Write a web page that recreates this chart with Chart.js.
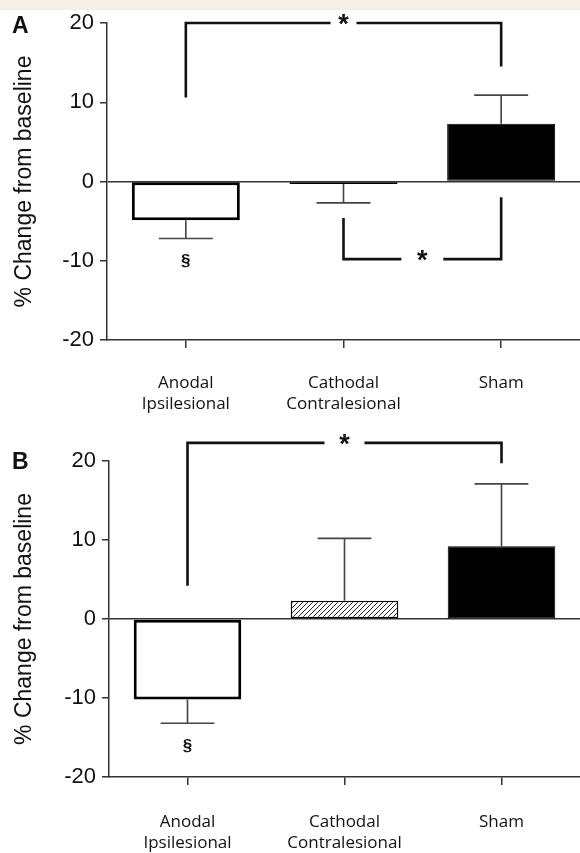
<!DOCTYPE html>
<html>
<head>
<meta charset="utf-8">
<script src="https://cdn.jsdelivr.net/npm/chart.js@4.4.0/dist/chart.umd.min.js"></script>
<style>
  html, body { margin: 0; padding: 0; background: #fff; }
  #band { position: absolute; left: 0; top: 0; width: 580px; height: 10px; background: #f4f0e3; z-index: 2; }
  .panel { position: relative; width: 580px; }
  #wrapA { height: 420px; }
  #wrapB { height: 433px; }
</style>
</head>
<body>
<div id="band"></div>
<div class="panel" id="wrapA"><canvas id="chartA"></canvas></div>
<div class="panel" id="wrapB"><canvas id="chartB"></canvas></div>
<script>
// ---- data ----
const categories = [['Anodal', 'Ipsilesional'], ['Cathodal', 'Contralesional'], ['Sham']];
const yTicks = [-20, -10, 0, 10, 20];

const meanA = [-4.9, -0.3, 7.3];
const errA = [2.3, 2.4, 3.6];
const meanB = [-10.2, 2.3, 9.2];
const errB = [3.0, 7.9, 7.9];

// significance brackets: [from category, to category, bracket level, left leg end, right leg end]
const bracketsA = [[0, 2, 20, 10.6, 14.5], [1, 2, -9.8, -4.6, -2.0]];
const bracketsB = [[0, 2, 22.3, 4.2, 19.7]];

// § marker: [category, value]
const sectionA = [0, -10.1];
const sectionB = [0, -16.1];

// hatch for cathodal bar in panel B
function hatch() {
    const c = document.createElement('canvas');
    c.width = 5; c.height = 5;
    const g = c.getContext('2d');
    g.fillStyle = '#fff';
    g.fillRect(0, 0, 5, 5);
    g.strokeStyle = '#222';
    g.lineWidth = 1;
    g.beginPath();
    g.moveTo(0, 5); g.lineTo(5, 0);
    g.moveTo(-1, 1); g.lineTo(1, -1);
    g.moveTo(4, 6); g.lineTo(6, 4);
    g.stroke();
    return g.createPattern(c, 'repeat');
}

// error bars, brackets, stars and panel letters
const extras = {
    id: 'extras',
    afterDatasetsDraw(chart, args, opts) {
        const { ctx, scales: { x, y } } = chart;
        const meta = chart.getDatasetMeta(0);
        ctx.save();

        // error bars (away from zero)
        ctx.strokeStyle = '#444';
        ctx.lineWidth = 1.6;
        opts.mean.forEach((m, i) => {
            const end = m + Math.sign(m) * opts.err[i];
            const px = x.getPixelForValue(i);
            const cap = meta.data[i].width / 4;
            const yEnd = y.getPixelForValue(end);
            ctx.beginPath();
            ctx.moveTo(px, y.getPixelForValue(m));
            ctx.lineTo(px, yEnd);
            ctx.moveTo(px - cap, yEnd);
            ctx.lineTo(px + cap, yEnd);
            ctx.stroke();
        });

        // brackets with stars
        ctx.strokeStyle = '#111';
        ctx.lineWidth = 2.6;
        ctx.lineJoin = 'miter';
        opts.brackets.forEach((b, k) => {
            const x0 = x.getPixelForValue(b[0]);
            const x1 = x.getPixelForValue(b[1]);
            const yb = y.getPixelForValue(b[2]);
            const mid = (x0 + x1) / 2;
            const gap = opts.gaps[k];
            ctx.beginPath();
            ctx.moveTo(x0, y.getPixelForValue(b[3]));
            ctx.lineTo(x0, yb);
            ctx.lineTo(mid - gap, yb);
            ctx.moveTo(mid + gap, yb);
            ctx.lineTo(x1, yb);
            ctx.lineTo(x1, y.getPixelForValue(b[4]));
            ctx.stroke();
            ctx.fillStyle = '#111';
            ctx.font = 'bold 27px "Liberation Sans", Arial, sans-serif';
            ctx.textAlign = 'center';
            ctx.textBaseline = 'alphabetic';
            ctx.fillText('*', mid, yb + 10);
        });

        // section mark
        ctx.fillStyle = '#111';
        ctx.font = 'bold 17px "Liberation Sans", Arial, sans-serif';
        ctx.textAlign = 'center';
        ctx.textBaseline = 'middle';
        ctx.fillText('§', x.getPixelForValue(opts.section[0]), y.getPixelForValue(opts.section[1]));

        // panel letter
        ctx.font = 'bold 23px "Liberation Sans", Arial, sans-serif';
        ctx.textAlign = 'left';
        ctx.textBaseline = 'alphabetic';
        ctx.fillText(opts.letter, 12, opts.letterY);

        ctx.restore();
    }
};

function buildChart(id, mean, err, fills, borders, cfg) {
    return new Chart(document.getElementById(id), {
        type: 'bar',
        data: {
            labels: categories,
            datasets: [{
                data: mean,
                backgroundColor: fills,
                borderColor: '#000',
                borderWidth: borders,
                borderSkipped: false,
                barPercentage: 0.685,
                categoryPercentage: 1
            }]
        },
        options: {
            responsive: true,
            maintainAspectRatio: false,
            animation: false,
            layout: { padding: { top: cfg.top, right: 0, left: 0, bottom: 0 } },
            plugins: {
                legend: { display: false },
                tooltip: { enabled: false },
                extras: {
                    mean: mean, err: err, brackets: cfg.brackets, gaps: cfg.gaps,
                    section: cfg.section, letter: cfg.letter, letterY: cfg.letterY
                }
            },
            scales: {
                x: {
                    grid: { drawOnChartArea: false, offset: false, tickLength: 8, color: '#333', lineWidth: 1.5 },
                    border: { color: '#333', width: 1.5 },
                    ticks: { color: '#111', font: { family: '"Open Sans"', size: 17, lineHeight: 1.27 }, padding: cfg.xPad, maxRotation: 0 },
                    afterFit(s) { s.height = cfg.xHeight; }
                },
                y: {
                    min: -20,
                    max: 20,
                    afterBuildTicks(s) { s.ticks = yTicks.map(v => ({ value: v })); },
                    grid: {
                        color: c => (c.tick && c.tick.value === 0) ? '#333' : 'rgba(0,0,0,0)',
                        tickColor: '#333',
                        tickLength: 7,
                        lineWidth: 1.5
                    },
                    border: { color: '#333', width: 1.5 },
                    ticks: { color: '#111', font: { family: '"Liberation Sans"', size: 22 }, padding: 6 },
                    title: {
                        display: true,
                        text: '% Change from baseline',
                        color: '#111',
                        font: { family: '"Liberation Sans"', size: 23 },
                        padding: { top: 11, bottom: 0 }
                    },
                    afterFit(s) { s.width = cfg.yWidth; }
                }
            }
        },
        plugins: [extras]
    });
}

buildChart('chartA', meanA, errA, ['#fff', '#fff', '#000'], [3, 3, 1], {
    top: 23, xHeight: 80, xPad: 24, yWidth: 107,
    brackets: bracketsA, gaps: [13, 21], section: sectionA, letter: 'A', letterY: 33
});

buildChart('chartB', meanB, errB, ['#fff', hatch(), '#000'], [3, 1.5, 1], {
    top: 41, xHeight: 76, xPad: 26, yWidth: 109,
    brackets: bracketsB, gaps: [20], section: sectionB, letter: 'B', letterY: 49
});
</script>
</body>
</html>
